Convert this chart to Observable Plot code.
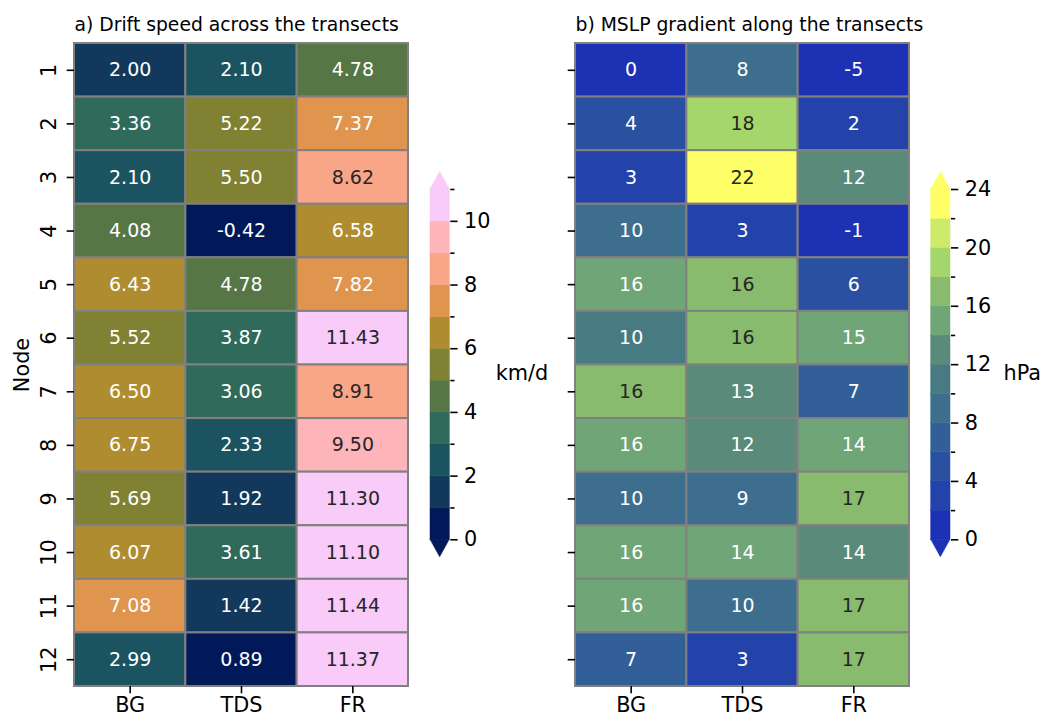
<!DOCTYPE html>
<html>
<head>
<meta charset="utf-8">
<script src="https://cdn.jsdelivr.net/npm/d3@7"></script>
<script src="https://cdn.jsdelivr.net/npm/@observablehq/plot@0.6"></script>
<style>
  body { margin: 0; background: #ffffff; }
  #fig { position: relative; width: 1042px; height: 715px; font-family: "DejaVu Sans", sans-serif; }
  #fig svg { position: absolute; left: 0; top: 0; overflow: visible; }
</style>
</head>
<body>
<div id="fig"></div>
<script>
// ---------------- data ----------------
const transects = ["BG", "TDS", "FR"];
const nodes = [1, 2, 3, 4, 5, 6, 7, 8, 9, 10, 11, 12];

// a) drift speed (km/d) per node
const driftBG  = [1.998, 3.36, 2.10, 4.08, 6.43, 5.52, 6.50, 6.75, 5.69, 6.07, 7.08, 2.99];
const driftTDS = [2.10, 5.22, 5.50, -0.42, 4.78, 3.87, 3.06, 2.33, 1.92, 3.61, 1.42, 0.89];
const driftFR  = [4.78, 7.37, 8.62, 6.58, 7.82, 11.43, 8.91, 9.50, 11.30, 11.10, 11.44, 11.37];

// b) MSLP gradient (hPa) per node
const mslpBG  = [0.2, 4.2, 3.0, 9.7, 15.7, 10.2, 16.2, 15.8, 9.8, 15.6, 15.7, 7.0];
const mslpTDS = [8.2, 18.2, 22.2, 3.0, 16.2, 16.3, 13.0, 12.3, 9.0, 14.3, 9.7, 3.0];
const mslpFR  = [-5.0, 2.2, 12.2, -1.0, 5.7, 15.0, 7.0, 14.2, 17.0, 13.8, 17.0, 17.0];

// colour levels and discrete palettes
const driftLevels = [0, 1, 2, 3, 4, 5, 6, 7, 8, 9, 10, 11];
const driftColors = ["#011959", "#12395b", "#1b5460", "#2f6a5a", "#567646", "#808133",
                     "#b08c30", "#e0954f", "#f9a688", "#fdb5ba", "#f9cbf8"];
const driftMajorTicks = [0, 2, 4, 6, 8, 10];
const driftMinorTicks = [1, 3, 5, 7, 9, 11];

const mslpLevels = [0, 2, 4, 6, 8, 10, 12, 14, 16, 18, 20, 22, 24];
const mslpColors = ["#1c31b3", "#2342aa", "#2a51a1", "#335f98", "#3d6e8d", "#487a82",
                    "#5a8b7a", "#70a577", "#89bb6f", "#a5d66b", "#cdea6a", "#fefe66"];
const mslpMajorTicks = [0, 4, 8, 12, 16, 20, 24];
const mslpMinorTicks = [2, 6, 10, 14, 18, 22];

// ---------------- helpers ----------------
const W = 1042, H = 715;
const FONT = "DejaVu Sans, sans-serif";
const TICK_FS = 20.8, ANNOT_FS = 19, TITLE_FS = 18.75;

function luminance(c) {
  const {r, g, b} = d3.rgb(c);
  const f = v => { v /= 255; return v <= 0.03928 ? v / 12.92 : Math.pow((v + 0.055) / 1.055, 2.4); };
  return 0.2126 * f(r) + 0.7152 * f(g) + 0.0722 * f(b);
}

function heatmap({cols, levels, colors, digits, left, right, title, showYLabels}) {
  const data = [];
  nodes.forEach((n, i) => transects.forEach((t, j) => data.push({node: n, transect: t, value: cols[j][i]})));
  const thresholds = levels.slice(1, -1);
  const colorOf = d3.scaleThreshold(thresholds, colors);
  const dark = d => luminance(colorOf(d.value)) > 0.408;
  const fmt = d => d.value.toFixed(digits);
  const marks = [
    Plot.cell(data, {x: "transect", y: "node", fill: "value", stroke: "#808080", strokeWidth: 2}),
    Plot.text(data.filter(dark), {x: "transect", y: "node", text: fmt, fill: "#262626", fontSize: ANNOT_FS}),
    Plot.text(data.filter(d => !dark(d)), {x: "transect", y: "node", text: fmt, fill: "white", fontSize: ANNOT_FS}),
    Plot.axisX({anchor: "bottom", tickSize: 7.3, tickPadding: 3, strokeWidth: 1.6, fontSize: TICK_FS, fill: "black", label: null}),
    Plot.axisY({anchor: "left", tickSize: 7.3, strokeWidth: 1.6, tickFormat: () => "", label: null}),
    Plot.text([title], {frameAnchor: "top-left", dy: -13, textAnchor: "start", lineAnchor: "bottom", fontSize: TITLE_FS, fill: "black"})
  ];
  if (showYLabels) {
    marks.push(Plot.text(nodes, {y: d => d, text: d => String(d), frameAnchor: "left", dx: -18.5, rotate: -90,
      textAnchor: "middle", lineAnchor: "bottom", fontSize: TICK_FS, fill: "black"}));
    marks.push(Plot.text(["Node"], {frameAnchor: "left", dx: -46, rotate: -90,
      textAnchor: "middle", lineAnchor: "bottom", fontSize: TICK_FS, fill: "black"}));
  }
  return Plot.plot({
    width: W, height: H,
    marginLeft: left, marginRight: W - right, marginTop: 43, marginBottom: 29,
    style: {fontFamily: FONT, fontSize: TICK_FS + "px", color: "black", background: "transparent", overflow: "visible"},
    x: {type: "band", domain: transects, padding: 0, round: false, label: null},
    y: {type: "band", domain: nodes, padding: 0, round: false, label: null},
    color: {type: "threshold", domain: thresholds, range: colors},
    marks
  });
}

function colorbar({levels, colors, major, minor, left, right, unit, unitDx}) {
  const thresholds = levels.slice(1, -1);
  const lo = levels[0], hi = levels[levels.length - 1];
  const ext = (hi - lo) * 0.05;
  const bins = colors.map((c, i) => ({y1: levels[i], y2: levels[i + 1], v: (levels[i] + levels[i + 1]) / 2}));
  const topTri = [{x: 0, y1: hi, y2: hi}, {x: 0.5, y1: hi, y2: hi + ext}, {x: 1, y1: hi, y2: hi}];
  const botTri = [{x: 0, y1: lo, y2: lo}, {x: 0.5, y1: lo, y2: lo - ext}, {x: 1, y1: lo, y2: lo}];
  return Plot.plot({
    width: W, height: H,
    marginLeft: left, marginRight: W - right, marginTop: 189, marginBottom: H - 539.3,
    style: {fontFamily: FONT, fontSize: TICK_FS + "px", color: "black", background: "transparent", overflow: "visible"},
    x: {domain: [0, 1], axis: null},
    y: {domain: [lo, hi]},
    color: {type: "threshold", domain: thresholds, range: colors},
    marks: [
      Plot.rectY(bins, {y1: "y1", y2: "y2", fill: "v", stroke: "v", strokeWidth: 0.5}),
      Plot.areaY(topTri, {x: "x", y1: "y1", y2: "y2", fill: () => hi + ext / 2, stroke: () => hi + ext / 2, strokeWidth: 0.5}),
      Plot.areaY(botTri, {x: "x", y1: "y1", y2: "y2", fill: () => lo - ext / 2, stroke: () => lo - ext / 2, strokeWidth: 0.5}),
      Plot.axisY({anchor: "right", ticks: major, tickSize: 7.3, tickPadding: 7, strokeWidth: 1.6,
        tickFormat: d => String(d), fontSize: TICK_FS, fill: "black", label: null}),
      Plot.axisY({anchor: "right", ticks: minor, tickSize: 4.2, strokeWidth: 1.6, tickFormat: () => "", label: null}),
      Plot.text([unit], {frameAnchor: "right", dx: unitDx, dy: 15.5, textAnchor: "start", lineAnchor: "bottom",
        fontSize: TICK_FS, fill: "black"})
    ]
  });
}

// ---------------- build ----------------
const fig = document.getElementById("fig");
fig.appendChild(heatmap({cols: [driftBG, driftTDS, driftFR], levels: driftLevels, colors: driftColors, digits: 2,
  left: 74, right: 408, title: "a) Drift speed across the transects", showYLabels: true}));
fig.appendChild(heatmap({cols: [mslpBG, mslpTDS, mslpFR], levels: mslpLevels, colors: mslpColors, digits: 0,
  left: 575, right: 909, title: "b) MSLP gradient along the transects", showYLabels: false}));
fig.appendChild(colorbar({levels: driftLevels, colors: driftColors, major: driftMajorTicks, minor: driftMinorTicks,
  left: 430, right: 449.3, unit: "km/d", unitDx: 46}));
fig.appendChild(colorbar({levels: mslpLevels, colors: mslpColors, major: mslpMajorTicks, minor: mslpMinorTicks,
  left: 930.7, right: 950, unit: "hPa", unitDx: 53}));
</script>
</body>
</html>
